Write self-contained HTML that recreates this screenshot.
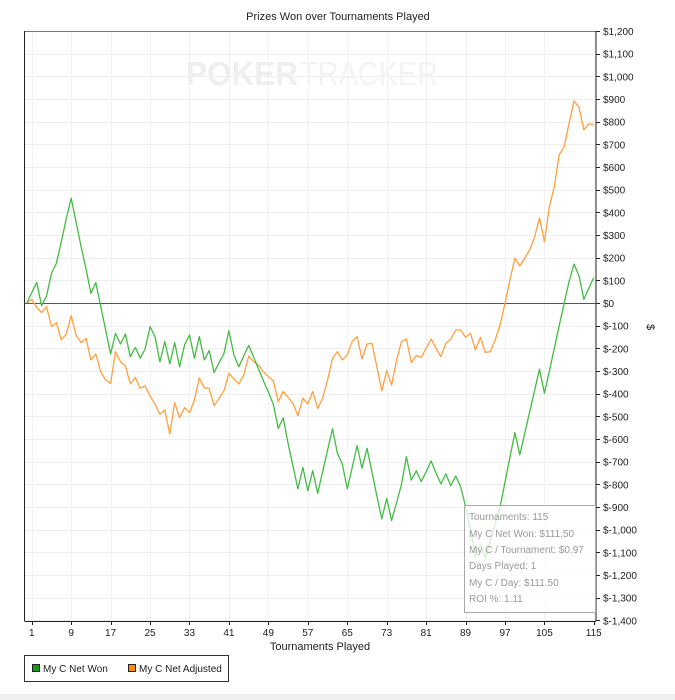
<!DOCTYPE html>
<html><head><meta charset="utf-8">
<style>
html,body{margin:0;padding:0;background:#fff;}
svg{display:block;font-family:"Liberation Sans",sans-serif;}
</style></head>
<body>
<svg id="chart" width="675" height="700" viewBox="0 0 675 700">
  <rect x="0" y="694" width="675" height="6" fill="#f0f0f0"/>
  <text x="338" y="20" font-size="11" text-anchor="middle" fill="#222">Prizes Won over Tournaments Played</text>
  <g id="grid"></g>
  <g>
    <text x="186" y="85" font-size="33" font-weight="bold" fill="#efefef" textLength="112" lengthAdjust="spacingAndGlyphs">POKER</text>
    <text x="300" y="85" font-size="33" fill="#f3f3f3" textLength="138" lengthAdjust="spacingAndGlyphs">TRACKER</text>
  </g>
  <g id="axes"></g>
  <g id="series"></g>
  <g>
    <rect x="464.5" y="505.5" width="131" height="107" fill="rgba(255,255,255,0.75)" stroke="#aaa"/>
    <g font-size="10" fill="#999">
      <text x="469" y="520">Tournaments: 115</text>
      <text x="469" y="537">My C Net Won: $111.50</text>
      <text x="469" y="553">My C / Tournament: $0.97</text>
      <text x="469" y="569">Days Played: 1</text>
      <text x="469" y="586">My C / Day: $111.50</text>
      <text x="469" y="602">ROI %: 1.11</text>
    </g>
  </g>
  <text x="320" y="650" font-size="11" text-anchor="middle" fill="#222">Tournaments Played</text>
  <text transform="translate(647,327) rotate(90)" font-size="11" text-anchor="middle" fill="#222">$</text>
  <g>
    <rect x="24.5" y="655.5" width="204" height="26" fill="#fff" stroke="#333"/>
    <g>
      <rect x="32.5" y="664.5" width="7" height="7" fill="#119911" stroke="#222"/>
      <text x="43" y="672" font-size="10" fill="#222">My C Net Won</text>
    </g>
    <g>
      <rect x="128.5" y="664.5" width="7" height="7" fill="#ff8c00" stroke="#222"/>
      <text x="139" y="672" font-size="10" fill="#222">My C Net Adjusted</text>
    </g>
  </g>
</svg>
<script>
const xTicks = [1,9,17,25,33,41,49,57,65,73,81,89,97,105,115];
const yTicks = [1200,1100,1000,900,800,700,600,500,400,300,200,100,0,-100,-200,-300,-400,-500,-600,-700,-800,-900,-1000,-1100,-1200,-1300,-1400];
const netWon = [0,45,91,-12,31,131,175,270,370,462,357,250,150,43,90,-15,-120,-225,-134,-181,-137,-237,-196,-243,-203,-104,-148,-260,-170,-269,-175,-281,-185,-141,-244,-148,-251,-210,-307,-263,-222,-122,-229,-281,-234,-187,-238,-291,-343,-394,-446,-553,-507,-620,-720,-820,-725,-828,-740,-840,-745,-650,-555,-663,-710,-820,-725,-629,-729,-641,-745,-850,-953,-862,-960,-880,-800,-678,-781,-740,-788,-745,-697,-750,-798,-754,-806,-763,-810,-898,-1000,-1119,-1067,-1126,-1050,-975,-898,-790,-680,-572,-670,-575,-480,-385,-292,-398,-300,-200,-100,0,95,172,119,16,65,111.5];
const netAdjusted = [0,16,-20,-43,-16,-104,-87,-163,-138,-56,-143,-175,-156,-251,-225,-303,-340,-354,-215,-259,-278,-357,-328,-376,-366,-410,-446,-491,-472,-578,-440,-506,-462,-484,-428,-331,-374,-377,-453,-420,-387,-310,-335,-357,-318,-234,-259,-274,-303,-325,-343,-435,-391,-416,-443,-497,-420,-445,-391,-465,-420,-340,-244,-215,-251,-229,-170,-148,-247,-181,-178,-281,-388,-298,-362,-251,-170,-159,-263,-232,-240,-200,-159,-200,-237,-178,-160,-119,-119,-151,-134,-207,-151,-218,-215,-163,-97,-1,101,198,163,197,234,292,375,270,425,513,653,690,793,892,863,763,790,785];

const NS='http://www.w3.org/2000/svg';
const L=24.5, R=596, T=31, B=621;
function xs(t){return 26.8 + t*4.93;}
function ys(v){return 303 - v*0.2267;}
function mk(tag, attrs, parent){const e=document.createElementNS(NS,tag);for(const k in attrs)e.setAttribute(k,attrs[k]);parent.appendChild(e);return e;}

const grid=document.getElementById('grid');
yTicks.forEach(v=>{
  const y=Math.round(ys(v))+0.5;
  const ln=mk('line',{x1:L,x2:R,y1:y,y2:y,stroke:'#eeeeee','stroke-width':1},grid);
  
  
});
xTicks.forEach(t=>{
  const x=Math.round(xs(t))+0.5;
  const ln=mk('line',{x1:x,x2:x,y1:T,y2:B,stroke:'#f2f2f2','stroke-width':1},grid);
  
  
});

const axes=document.getElementById('axes');
let a;
a=mk('line',{x1:L,x2:R,y1:T+0.5,y2:T+0.5,stroke:'#777'},axes);


a=mk('line',{x1:L,x2:L,y1:T,y2:B,stroke:'#222'},axes);


a=mk('line',{x1:R,x2:R,y1:T,y2:B,stroke:'#222'},axes);


a=mk('line',{x1:L,x2:R,y1:B+0.5,y2:B+0.5,stroke:'#222'},axes);


a=mk('line',{x1:L,x2:R,y1:Math.round(ys(0))+0.5,y2:Math.round(ys(0))+0.5,stroke:'#555'},axes);



function fmt(v){const s=Math.abs(v).toLocaleString('en-US');return v<0?'$-'+s:'$'+s;}
yTicks.forEach(v=>{
  const y=ys(v);
  const tk=mk('line',{x1:R,x2:R+4,y1:Math.round(y)+0.5,y2:Math.round(y)+0.5,stroke:'#222'},axes);
  
  
  const tx=mk('text',{x:R+7,y:y+4,'font-size':10,fill:'#222'},axes);
  tx.textContent=fmt(v);
  
  
});
xTicks.forEach(t=>{
  const x=xs(t);
  const tk=mk('line',{x1:Math.round(x)+0.5,x2:Math.round(x)+0.5,y1:B,y2:B+4,stroke:'#222'},axes);
  
  
  const tx=mk('text',{x:x,y:636,'font-size':10,fill:'#222','text-anchor':'middle'},axes);
  tx.textContent=String(t);
  
  
});

const series=document.getElementById('series');
function line(vals,color,name){
  const d=vals.map((v,i)=>(i?'L':'M')+xs(i).toFixed(1)+' '+ys(v).toFixed(1)).join(' ');
  const p=mk('path',{d:d,fill:'none',stroke:color,'stroke-width':1.3,'stroke-linejoin':'round'},series);
  
  
}
line(netAdjusted,'#ffa040','net-adjusted-line');
line(netWon,'#44bb44','net-won-line');
</script>
</body></html>
